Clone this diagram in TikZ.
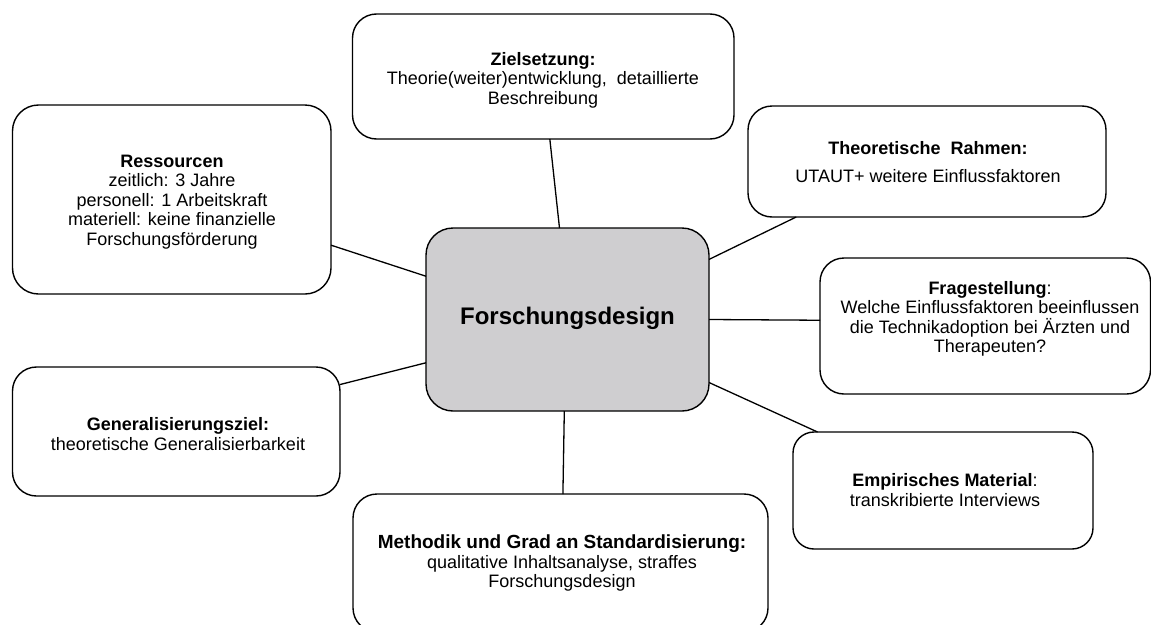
\documentclass[tikz,border=0pt]{standalone}
\usepackage{fontspec}
\setmainfont{Liberation Sans}
\begin{document}
\begin{tikzpicture}[x=1pt,y=-1pt,
  bubble/.style={draw=black, fill=white, line width=1.4pt, rounded corners=24pt,
    inner sep=0pt, outer sep=0pt},
  hub/.style={bubble, fill=hubgray, rounded corners=27pt},
  txt/.style={align=center, inner sep=0pt,
    font=\fontsize{18}{19.5}\selectfont},
  link/.style={draw=black, line width=1.3pt}
]
\definecolor{hubgray}{RGB}{207,206,208}
\clip (0,0) rectangle (1151,624);

% boxes
\node[hub, minimum width=283pt, minimum height=183pt] (C) at (567.5,319.5) {};
\node[bubble, minimum width=381.5pt, minimum height=125pt] (ziel) at (543.25,76.5) {};
\node[bubble, minimum width=358pt, minimum height=111pt] (theo) at (927,161.5) {};
\node[bubble, minimum width=318.5pt, minimum height=189pt, rounded corners=26pt] (ress) at (171.75,199.5) {};
\node[bubble, minimum width=330.5pt, minimum height=136pt] (frage) at (985.25,326) {};
\node[bubble, minimum width=327.5pt, minimum height=129pt] (gen) at (176.25,431.5) {};
\node[bubble, minimum width=300pt, minimum height=117pt, rounded corners=21pt] (emp) at (943,490.5) {};
\node[bubble, minimum width=415pt, minimum height=138pt] (meth) at (560.5,563) {};

% connectors from the hub to each aspect
\draw[link] (ziel.-84.74) -- (C.95.93);
\draw[link] (theo.-157.95) -- (C.23.83);
\draw[link] (frage.178.79) -- (C.-0.81);
\draw[link] (emp.155.77) -- (C.-24.5);
\draw[link] (meth.88.75) -- (C.-92.19);
\draw[link] (gen.16.18) -- (C.-163.65);
\draw[link] (ress.-16.94) -- (C.163.28);

% texts
\node[txt, font=\fontsize{24}{28}\selectfont\bfseries] (Ct) at (567.5,318) {Forschungsdesign};
\node[txt] (zielt) at (543,80) {\textbf{Zielsetzung:}\\Theorie(weiter)entwicklung,\ \ detaillierte\\Beschreibung};
\node[txt] (theot) at (928,162) {\textbf{Theoretische\ \ Rahmen:}\\[8pt]UTAUT+ weitere Einflussfaktoren};
\node[txt] (resst) at (172,202) {\textbf{Ressourcen}\\zeitlich: 3 Jahre\\personell: 1 Arbeitskraft\\materiell: keine finanzielle\\Forschungsförderung};
\node[txt] (fraget) at (990,319) {\textbf{Fragestellung}:\\Welche Einflussfaktoren beeinflussen\\die Technikadoption bei Ärzten und\\Therapeuten?};
\node[txt] (gent) at (178,434) {\textbf{Generalisierungsziel:}\\theoretische Generalisierbarkeit};
\node[txt] (empt) at (945,490) {\textbf{Empirisches Material}:\\transkribierte Interviews};
\node[txt] (metht) at (562,563) {{\fontsize{19}{19.5}\selectfont\bfseries Methodik und Grad an Standardisierung:}\\qualitative Inhaltsanalyse, straffes\\Forschungsdesign};
\end{tikzpicture}
\end{document}
